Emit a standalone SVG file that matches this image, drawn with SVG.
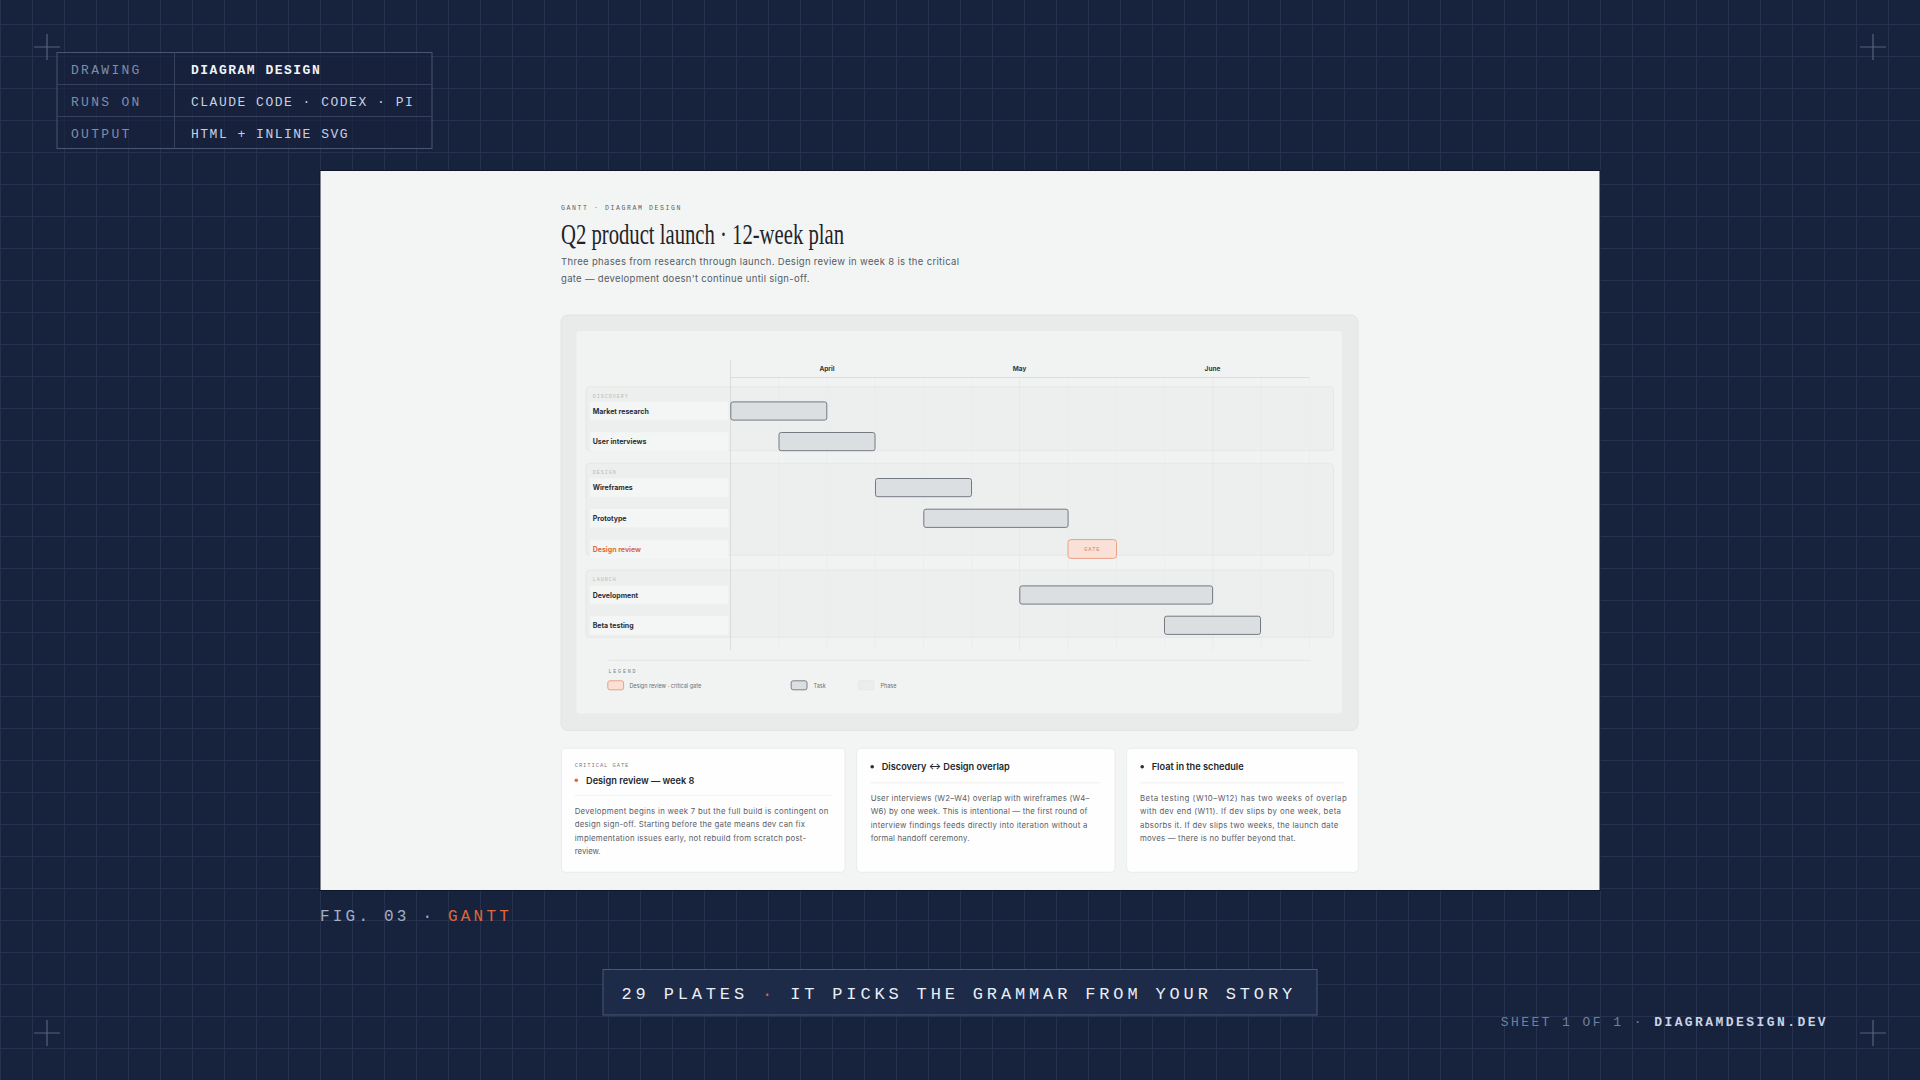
<svg xmlns="http://www.w3.org/2000/svg" width="1920" height="1080" viewBox="0 0 1920 1080">
<defs>
<pattern id="grid" x="0" y="24" width="32" height="32" patternUnits="userSpaceOnUse">
<path d="M0.5 0V32M0 0.5H32" stroke="#25314e" stroke-width="1" fill="none"/>
</pattern>
<style>
.mono{font-family:"Liberation Mono","DejaVu Sans Mono",monospace}
.sans{font-family:Inter,"Liberation Sans",sans-serif}
.tlab{font-size:13px;letter-spacing:2.3px;fill:#7e8dab}
.tval{font-size:13px;letter-spacing:1.5px;fill:#c6d0e2}
.cross{stroke:#56627e;stroke-width:1.2}
.phase{fill:#edefee;stroke:#e2e5e4;stroke-width:0.8}
.plabel{font-size:5px;letter-spacing:1px;fill:#b5babd}
.lband{fill:#f4f5f5}
.rlabel{font-size:7px;font-weight:700;fill:#2b2f35}
.bar{fill:#dcdfe1;stroke:#747a82;stroke-width:1}
.wk{stroke:#e8ebea;stroke-width:0.6}
.month{font-size:6.5px;font-weight:700;fill:#33373d}
.card{fill:#fefefe;stroke:#e5e8e7;stroke-width:0.8}
.ctitle{font-size:9.2px;font-weight:600;fill:#23272d}
.cbody{font-size:7.8px;fill:#5a6068}
.ltext{font-size:5.5px;fill:#6a6f76}
</style>
</defs>
<rect width="1920" height="1080" fill="#17223c"/>
<rect width="1920" height="1080" fill="url(#grid)"/>
<g id="corners">
<path class="cross" d="M34 47H60M47 34V60"/>
<path class="cross" d="M1860 47H1886M1873 34V60"/>
<path class="cross" d="M34 1033H60M47 1020V1046"/>
<path class="cross" d="M1860 1033H1886M1873 1020V1046"/>
</g>
<g id="title-block">
<rect x="57" y="52.5" width="375" height="96" fill="#17223c" fill-opacity="0.6" stroke="#4a5673" stroke-width="1"/>
<path d="M174.5 52.5V148.5M57 84.5H432M57 116.5H432" stroke="#36415d" stroke-width="1"/>
<text class="mono tlab" x="71" y="73.5">DRAWING</text>
<text class="mono tlab" x="71" y="105.5">RUNS ON</text>
<text class="mono tlab" x="71" y="137.5">OUTPUT</text>
<text class="mono tval" x="191" y="73.5" font-weight="700" style="fill:#f1f4f9">DIAGRAM DESIGN</text>
<text class="mono tval" x="191" y="105.5">CLAUDE CODE · CODEX · PI</text>
<text class="mono tval" x="191" y="137.5">HTML + INLINE SVG</text>
</g>
<g id="plate">
<rect x="320" y="170.5" width="1280" height="720" fill="#f3f5f4" stroke="#0e1628" stroke-width="1"/>
<text class="mono" x="561" y="209.5" font-size="6.5" letter-spacing="1.6" fill="#585e66">GANTT · DIAGRAM DESIGN</text>
<text x="561" y="243.5" font-family="'Liberation Serif','DejaVu Serif',serif" font-size="29" fill="#1f2328" textLength="283" lengthAdjust="spacingAndGlyphs">Q2 product launch · 12-week plan</text>
<text class="sans" x="561" y="265" font-size="9.5" fill="#555c66" textLength="398" lengthAdjust="spacing">Three phases from research through launch. Design review in week 8 is the critical</text>
<text class="sans" x="561" y="282.3" font-size="9.5" fill="#555c66" textLength="248.5" lengthAdjust="spacing">gate — development doesn't continue until sign-off.</text>
</g>
<g id="gantt-frame">
<rect x="561" y="315" width="797" height="415.5" rx="7" fill="#e8ebea" stroke="#e1e4e3" stroke-width="1"/>
<rect x="576.5" y="331" width="765.5" height="382.5" rx="3" fill="#f1f3f2"/>
</g>
<g id="phase-discovery">
<rect class="phase" x="586" y="386.7" width="747.5" height="64" rx="4"/>
<text class="mono plabel" x="592.7" y="397.8">DISCOVERY</text>
</g>
<g id="phase-design">
<rect class="phase" x="586" y="463.3" width="747.5" height="91.7" rx="4"/>
<text class="mono plabel" x="592.7" y="474.3">DESIGN</text>
</g>
<g id="phase-launch">
<rect class="phase" x="586" y="570" width="747.5" height="67.3" rx="4"/>
<text class="mono plabel" x="592.7" y="581.3">LAUNCH</text>
</g>
<g id="timeline">
<path class="wk" d="M778.75 378V650M827 378V650M875.25 378V650M923.5 378V650M971.75 378V650M1068.25 378V650M1116.5 378V650M1164.75 378V650M1261.25 378V650M1309.5 378V650"/>
<path d="M1019.5 378V650M1213 378V650" stroke="#e3e6e5" stroke-width="0.7"/>
<path d="M730.5 360V650" stroke="#d6dad9" stroke-width="0.9"/>
<path d="M730.5 377.5H1309" stroke="#d4d8d7" stroke-width="0.8"/>
<text class="sans month" x="827" y="370.8" text-anchor="middle">April</text>
<text class="sans month" x="1019.5" y="370.8" text-anchor="middle">May</text>
<text class="sans month" x="1212.5" y="370.8" text-anchor="middle">June</text>
</g>
<g id="row-market-research">
<rect class="lband" x="590" y="401.7" width="138.5" height="18.5"/>
<text class="sans rlabel" x="592.7" y="413.5">Market research</text>
<rect class="bar" x="730.8" y="401.9" width="96" height="18.2" rx="2.2"/>
</g>
<g id="row-user-interviews">
<rect class="lband" x="590" y="432.3" width="138.5" height="18.5"/>
<text class="sans rlabel" x="592.7" y="444.3">User interviews</text>
<rect class="bar" x="779" y="432.5" width="96" height="18.2" rx="2.2"/>
</g>
<g id="row-wireframes">
<rect class="lband" x="590" y="478.3" width="138.5" height="18.5"/>
<text class="sans rlabel" x="592.7" y="490.3">Wireframes</text>
<rect class="bar" x="875.5" y="478.5" width="96" height="18.2" rx="2.2"/>
</g>
<g id="row-prototype">
<rect class="lband" x="590" y="509" width="138.5" height="18.5"/>
<text class="sans rlabel" x="592.7" y="520.8">Prototype</text>
<rect class="bar" x="923.8" y="509.2" width="144.3" height="18.2" rx="2.2"/>
</g>
<g id="row-design-review">
<rect class="lband" x="590" y="539.8" width="138.5" height="18.5"/>
<text class="sans rlabel" x="592.7" y="551.6" style="fill:#dc6a40">Design review</text>
<rect x="1068" y="539.6" width="48.5" height="18.8" rx="3" fill="#f9e1d7" stroke="#eba286" stroke-width="1"/>
<text class="mono" x="1092.3" y="551.3" font-size="5.5" letter-spacing="0.7" fill="#e07e58" text-anchor="middle">GATE</text>
</g>
<g id="row-development">
<rect class="lband" x="590" y="585.8" width="138.5" height="18.5"/>
<text class="sans rlabel" x="592.7" y="597.5">Development</text>
<rect class="bar" x="1019.8" y="585.9" width="192.8" height="18.2" rx="2.2"/>
</g>
<g id="row-beta-testing">
<rect class="lband" x="590" y="616.2" width="138.5" height="18.5"/>
<text class="sans rlabel" x="592.7" y="628">Beta testing</text>
<rect class="bar" x="1164.5" y="616.2" width="96" height="18.2" rx="2.2"/>
</g>
<g id="legend">
<path d="M608.5 660.3H1311" stroke="#e0e3e2" stroke-width="0.8"/>
<text class="mono" x="608.5" y="672.6" font-size="5" letter-spacing="1.8" fill="#777c83">LEGEND</text>
<rect x="607.8" y="680.8" width="15.8" height="9" rx="2" fill="#f9dfd4" stroke="#e9997a" stroke-width="0.9"/>
<text class="sans ltext" x="629.4" y="687.6">Design review · critical gate</text>
<rect x="791.2" y="680.8" width="15.8" height="9" rx="2" fill="#dcdfe1" stroke="#6f757c" stroke-width="0.9"/>
<text class="sans ltext" x="813.6" y="687.6">Task</text>
<rect x="858.3" y="680.8" width="15.8" height="9" rx="2" fill="#eaedec" stroke="#e3e6e5" stroke-width="0.8"/>
<text class="sans ltext" x="880.4" y="687.6">Phase</text>
</g>
<g id="card-critical-gate">
<rect class="card" x="561.5" y="748.3" width="283.5" height="124" rx="4"/>
<text class="mono" x="574.7" y="767.3" font-size="5.5" letter-spacing="0.9" fill="#7a7f86">CRITICAL GATE</text>
<circle cx="576.3" cy="780.2" r="1.8" fill="#dc6a40"/>
<text class="sans ctitle" x="586" y="783.5">Design review — week 8</text>
<path d="M574.7 795.2H831.7" stroke="#eceeed" stroke-width="0.8"/>
<text class="sans cbody" x="574.7" y="814" textLength="253.7" lengthAdjust="spacing">Development begins in week 7 but the full build is contingent on</text>
<text class="sans cbody" x="574.7" y="827.3" textLength="230.3" lengthAdjust="spacing">design sign-off. Starting before the gate means dev can fix</text>
<text class="sans cbody" x="574.7" y="840.7" textLength="231.3" lengthAdjust="spacing">implementation issues early, not rebuild from scratch post-</text>
<text class="sans cbody" x="574.7" y="854">review.</text>
</g>
<g id="card-overlap">
<rect class="card" x="856.7" y="748.3" width="258.3" height="124" rx="4"/>
<circle cx="872.2" cy="766.7" r="1.8" fill="#2b2f35"/>
<text class="sans ctitle" x="881.7" y="769.6">Discovery ↔ Design overlap</text>
<path d="M870.7 782.8H1100.7" stroke="#eceeed" stroke-width="0.8"/>
<text class="sans cbody" x="870.7" y="801" textLength="218.7" lengthAdjust="spacing">User interviews (W2–W4) overlap with wireframes (W4–</text>
<text class="sans cbody" x="870.7" y="814.3" textLength="216.7" lengthAdjust="spacing">W6) by one week. This is intentional — the first round of</text>
<text class="sans cbody" x="870.7" y="827.6" textLength="216.7" lengthAdjust="spacing">interview findings feeds directly into iteration without a</text>
<text class="sans cbody" x="870.7" y="841" textLength="98.7" lengthAdjust="spacing">formal handoff ceremony.</text>
</g>
<g id="card-float">
<rect class="card" x="1126.7" y="748.3" width="231.6" height="124" rx="4"/>
<circle cx="1142.2" cy="766.7" r="1.8" fill="#2b2f35"/>
<text class="sans ctitle" x="1151.7" y="769.6">Float in the schedule</text>
<path d="M1140 782.8H1344" stroke="#eceeed" stroke-width="0.8"/>
<text class="sans cbody" x="1140" y="801" textLength="206.7" lengthAdjust="spacing">Beta testing (W10–W12) has two weeks of overlap</text>
<text class="sans cbody" x="1140" y="814.3" textLength="201" lengthAdjust="spacing">with dev end (W11). If dev slips by one week, beta</text>
<text class="sans cbody" x="1140" y="827.6" textLength="198.3" lengthAdjust="spacing">absorbs it. If dev slips two weeks, the launch date</text>
<text class="sans cbody" x="1140" y="841" textLength="155.7" lengthAdjust="spacing">moves — there is no buffer beyond that.</text>
</g>
<g id="connectors"/>
<g id="caption">
<text class="mono" x="320" y="920.8" font-size="16" letter-spacing="3.2" fill="#a3afc5">FIG. 03 · <tspan fill="#e0683a">GANTT</tspan></text>
</g>
<g id="banner">
<rect x="603" y="969.5" width="714" height="45.5" fill="#1d2a48" stroke="#4a5878" stroke-width="1"/>
<text class="mono" x="621.5" y="999" font-size="17" letter-spacing="3.85" fill="#e9eef6">29 PLATES <tspan fill="#e0683a">·</tspan> IT PICKS THE GRAMMAR FROM YOUR STORY</text>
</g>
<g id="sheet">
<text class="mono" x="1500.7" y="1026" font-size="13" letter-spacing="2.43" fill="#7080a0">SHEET 1 OF 1 · <tspan font-weight="700" fill="#c9d4e6">DIAGRAMDESIGN.DEV</tspan></text>
</g>
</svg>
